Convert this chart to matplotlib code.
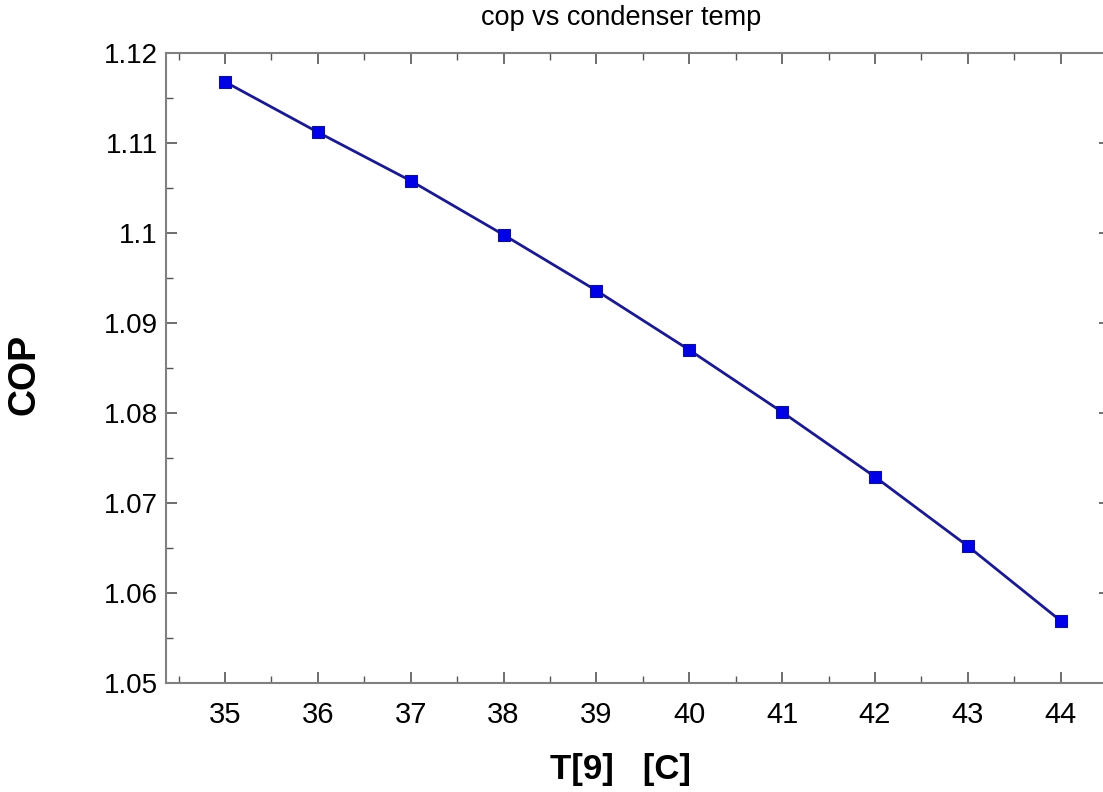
import matplotlib
matplotlib.use("Agg")
import matplotlib.pyplot as plt
from matplotlib.ticker import MultipleLocator

plt.rcParams['font.family'] = ['Liberation Sans', 'DejaVu Sans']

temps = [35, 36, 37, 38, 39, 40, 41, 42, 43, 44]
cop = [1.1168, 1.1112, 1.1058, 1.0998, 1.0936, 1.0870, 1.0801, 1.0729, 1.0652, 1.0569]
y_ticks = [1.05, 1.06, 1.07, 1.08, 1.09, 1.10, 1.11, 1.12]
y_tick_labels = ['1.05', '1.06', '1.07', '1.08', '1.09', '1.1', '1.11', '1.12']

fig = plt.figure(figsize=(11.03, 7.92), dpi=100)
ax = fig.add_axes([166/1103, 1 - 683/792, (1110 - 166)/1103, (683 - 53)/792])

ax.plot(temps, cop, color='#1a1a8c', linewidth=2.0, marker='s', markersize=9,
        markerfacecolor='#0000e6', markeredgecolor='#10108a', markeredgewidth=0.8, zorder=3)

ax.set_xlim(34.365, 44.53)
ax.set_ylim(1.05, 1.12)
ax.set_xticks(temps)
ax.set_yticks(y_ticks)
ax.set_yticklabels(y_tick_labels)
ax.xaxis.set_minor_locator(MultipleLocator(0.5))
ax.yaxis.set_minor_locator(MultipleLocator(0.005))

for s in ax.spines.values():
    s.set_color('#808080')
    s.set_linewidth(1.5)

ax.tick_params(which='both', direction='in', top=True, right=True, colors='#555555',
               labelcolor='black')
ax.tick_params(axis='x', labelsize=21)
ax.tick_params(axis='y', labelsize=20)
ax.tick_params(which='major', length=8, width=1.2)
ax.tick_params(which='minor', length=5, width=1.0)
ax.tick_params(axis='x', which='major', pad=13)
ax.tick_params(axis='y', which='major', pad=6)

fig.text(621/1103, 1 - 18/792, 'cop vs condenser temp', ha='center', va='center', fontsize=19.5)
fig.text(621/1103, 1 - 769/792, 'T[9]   [C]', ha='center', va='center', fontsize=25, fontweight='bold')
fig.text(25/1103, 1 - 374/792, 'COP', ha='center', va='center', rotation=90, fontsize=27, fontweight='bold')

fig.savefig('out.png', dpi=100, facecolor='white')
